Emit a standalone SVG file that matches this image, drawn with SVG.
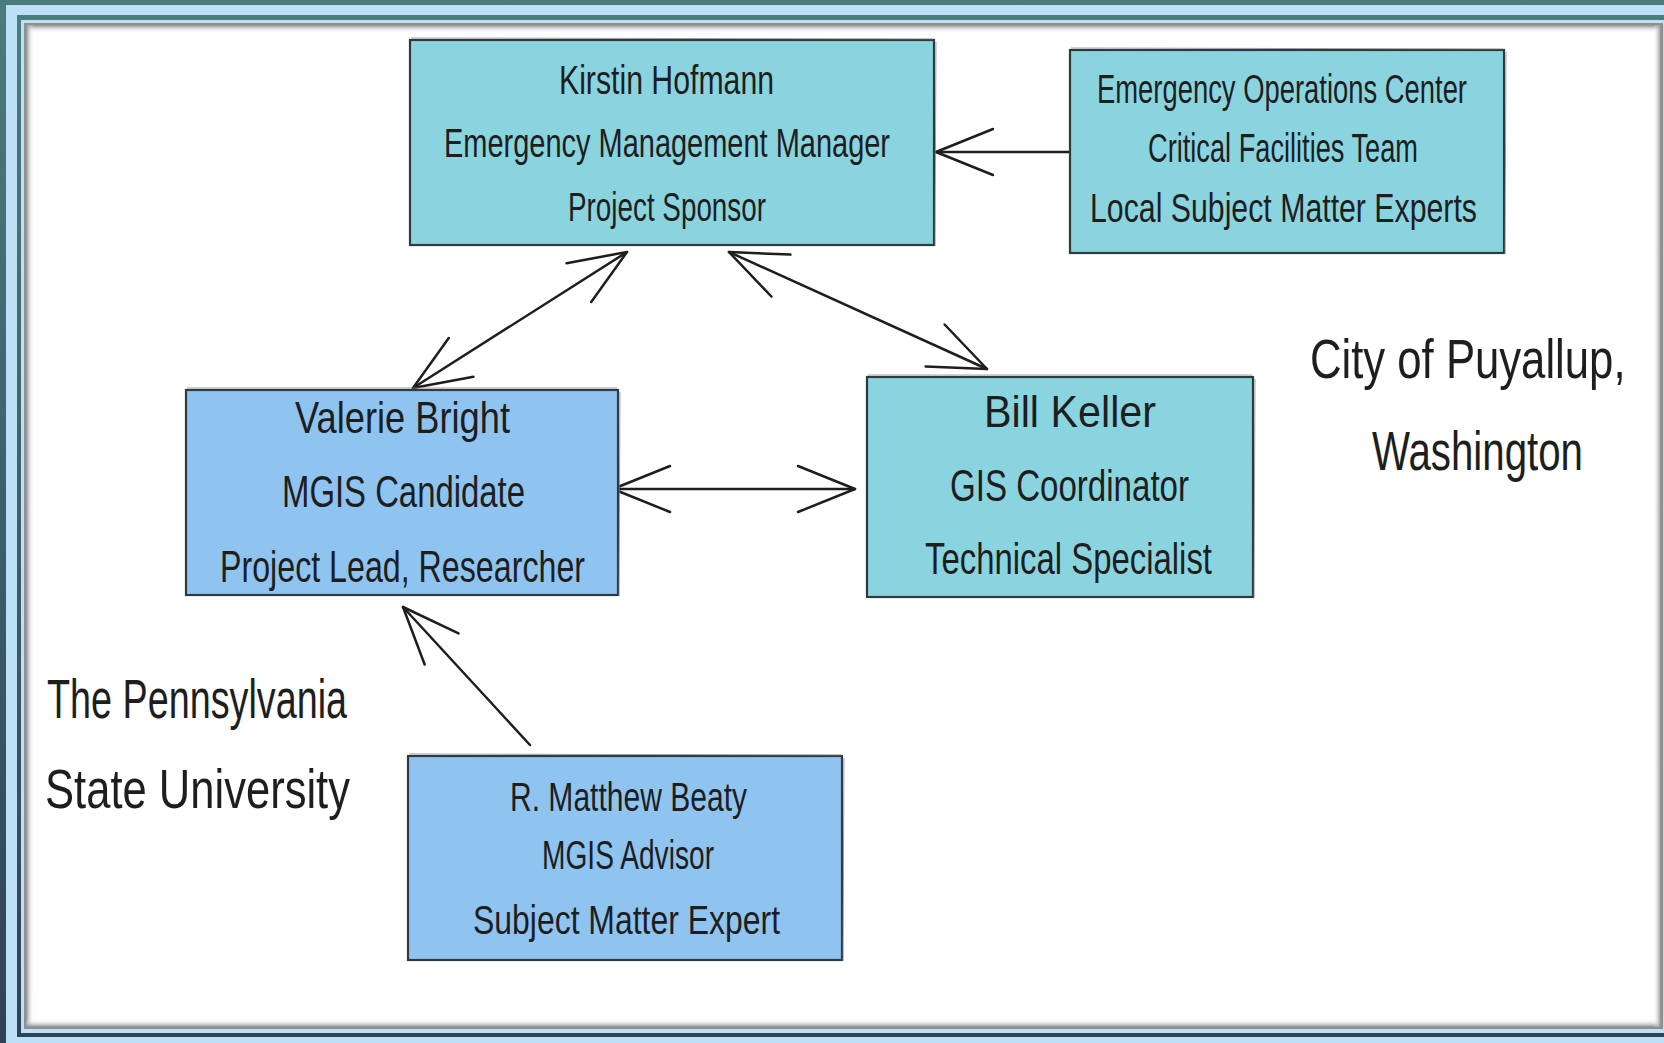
<svg xmlns="http://www.w3.org/2000/svg" width="1664" height="1043" viewBox="0 0 1664 1043">
<defs>
  <linearGradient id="dark" x1="0" y1="0" x2="0" y2="1">
    <stop offset="0" stop-color="#4b7c7c"/>
    <stop offset="1" stop-color="#2e4257"/>
  </linearGradient>
  <linearGradient id="shT" x1="0" y1="0" x2="0" y2="1">
    <stop offset="0" stop-color="#8c8c8c"/>
    <stop offset="1" stop-color="#ffffff" stop-opacity="0"/>
  </linearGradient>
  <linearGradient id="shL" x1="0" y1="0" x2="1" y2="0">
    <stop offset="0" stop-color="#8c8c8c"/>
    <stop offset="1" stop-color="#ffffff" stop-opacity="0"/>
  </linearGradient>
  <linearGradient id="shB" x1="0" y1="1" x2="0" y2="0">
    <stop offset="0" stop-color="#8c8c8c"/>
    <stop offset="1" stop-color="#ffffff" stop-opacity="0"/>
  </linearGradient>
  <linearGradient id="shR" x1="1" y1="0" x2="0" y2="0">
    <stop offset="0" stop-color="#8c8c8c"/>
    <stop offset="1" stop-color="#ffffff" stop-opacity="0"/>
  </linearGradient>
  <marker id="ah" markerUnits="userSpaceOnUse" markerWidth="80" markerHeight="70" viewBox="-70 -35 80 70" refX="0" refY="0" orient="auto-start-reverse" overflow="visible">
    <path d="M-57,-23 L0,0 L-57,23" fill="none" stroke="#1e1e1e" stroke-width="2.5" stroke-linecap="round" stroke-linejoin="round"/>
  </marker>
  <style>
    .teal { fill: #8ad4df; stroke: #2f3a3c; stroke-width: 2.2; }
    .blue { fill: #8fc4f0; stroke: #2f3a45; stroke-width: 2.2; }
    .edge { fill: none; stroke: #7a7a7a; stroke-width: 1; opacity: 0.7; }
    .t { font-family: "Liberation Sans", Arial, sans-serif; font-size: 40px; fill: #1e1e1e; }
    .lbl { font-family: "Liberation Sans", Arial, sans-serif; font-size: 56px; fill: #1e1e1e; }
    .conn { fill: none; stroke: #1e1e1e; stroke-width: 2.5; stroke-linecap: round; marker-end: url(#ah); }
    .both { marker-start: url(#ah); }
  </style>
</defs>

<!-- frame -->
<g id="frame">
  <rect x="0" y="0" width="1664" height="1043" fill="url(#dark)"/>
  <rect x="6" y="5" width="1658" height="1038" fill="#bde0f6"/>
  <rect x="17" y="15" width="1647" height="1022" fill="url(#dark)"/>
  <rect x="21" y="20" width="1643" height="1013" fill="#bde0f6"/>
  <rect x="24" y="23" width="1639" height="1006" fill="#8f8f8f"/>
  <rect x="26" y="25" width="1635" height="1002" fill="#ffffff"/>
  <rect x="26" y="25" width="1635" height="8" fill="url(#shT)"/>
  <rect x="26" y="25" width="8" height="1002" fill="url(#shL)"/>
  <rect x="26" y="1019" width="1635" height="8" fill="url(#shB)"/>
  <rect x="1653" y="25" width="8" height="1002" fill="url(#shR)"/>
</g>

<!-- connectors -->
<g id="connectors">
  <path class="conn" d="M1077,152 L936,152"/>
  <path class="conn both" d="M627,252 L413,388"/>
  <path class="conn both" d="M729,252 L987,369"/>
  <path class="conn both" d="M613,489 L855,489"/>
  <path class="conn" d="M530,745 L403,607"/>
</g>

<!-- nodes -->
<g id="node-kirstin">
  <rect class="teal" x="410" y="40" width="524" height="205"/>
  <path class="edge" d="M411,38 L933,39 M936,42 L935,246"/>
  <text class="t" x="559" y="94" textLength="215" lengthAdjust="spacingAndGlyphs">Kirstin Hofmann</text>
  <text class="t" x="444" y="157" textLength="446" lengthAdjust="spacingAndGlyphs">Emergency Management Manager</text>
  <text class="t" x="568" y="221" textLength="198" lengthAdjust="spacingAndGlyphs">Project Sponsor</text>
</g>

<g id="node-eoc">
  <rect class="teal" x="1070" y="50" width="434" height="203"/>
  <path class="edge" d="M1071,48 L1503,49 M1506,52 L1505,254"/>
  <text class="t" x="1097" y="103" textLength="370" lengthAdjust="spacingAndGlyphs">Emergency Operations Center</text>
  <text class="t" x="1148" y="162" textLength="270" lengthAdjust="spacingAndGlyphs">Critical Facilities Team</text>
  <text class="t" x="1090" y="222" textLength="387" lengthAdjust="spacingAndGlyphs">Local Subject Matter Experts</text>
</g>

<g id="node-valerie">
  <rect class="blue" x="186" y="390" width="432" height="205"/>
  <path class="edge" d="M187,388 L617,388 M620,392 L619,596"/>
  <text class="t" x="295" y="433" textLength="215" lengthAdjust="spacingAndGlyphs" style="font-size:44px">Valerie Bright</text>
  <text class="t" x="282" y="507" textLength="243" lengthAdjust="spacingAndGlyphs" style="font-size:44px">MGIS Candidate</text>
  <text class="t" x="220" y="582" textLength="365" lengthAdjust="spacingAndGlyphs" style="font-size:44px">Project Lead, Researcher</text>
</g>

<g id="node-bill">
  <rect class="teal" x="867" y="377" width="386" height="220"/>
  <path class="edge" d="M868,375 L1252,375 M1255,379 L1254,598"/>
  <text class="t" x="984" y="427" textLength="172" lengthAdjust="spacingAndGlyphs" style="font-size:44px">Bill Keller</text>
  <text class="t" x="950" y="501" textLength="239" lengthAdjust="spacingAndGlyphs" style="font-size:44px">GIS Coordinator</text>
  <text class="t" x="925" y="574" textLength="287" lengthAdjust="spacingAndGlyphs" style="font-size:44px">Technical Specialist</text>
</g>

<g id="node-matthew">
  <rect class="blue" x="408" y="756" width="434" height="204"/>
  <path class="edge" d="M409,754 L841,755 M844,758 L843,961"/>
  <text class="t" x="510" y="811" textLength="237" lengthAdjust="spacingAndGlyphs">R. Matthew Beaty</text>
  <text class="t" x="542" y="869" textLength="172" lengthAdjust="spacingAndGlyphs">MGIS Advisor</text>
  <text class="t" x="473" y="934" textLength="307" lengthAdjust="spacingAndGlyphs">Subject Matter Expert</text>
</g>

<!-- free labels -->
<g id="label-puyallup">
  <text class="lbl" transform="translate(1310 378) scale(0.78 1)" x="0" y="0">City of Puyallup,</text>
  <text class="lbl" x="1372" y="470" textLength="211" lengthAdjust="spacingAndGlyphs">Washington</text>
</g>
<g id="label-psu">
  <text class="lbl" x="47" y="718" textLength="300" lengthAdjust="spacingAndGlyphs">The Pennsylvania</text>
  <text class="lbl" x="45" y="808" textLength="305" lengthAdjust="spacingAndGlyphs">State University</text>
</g>
</svg>
